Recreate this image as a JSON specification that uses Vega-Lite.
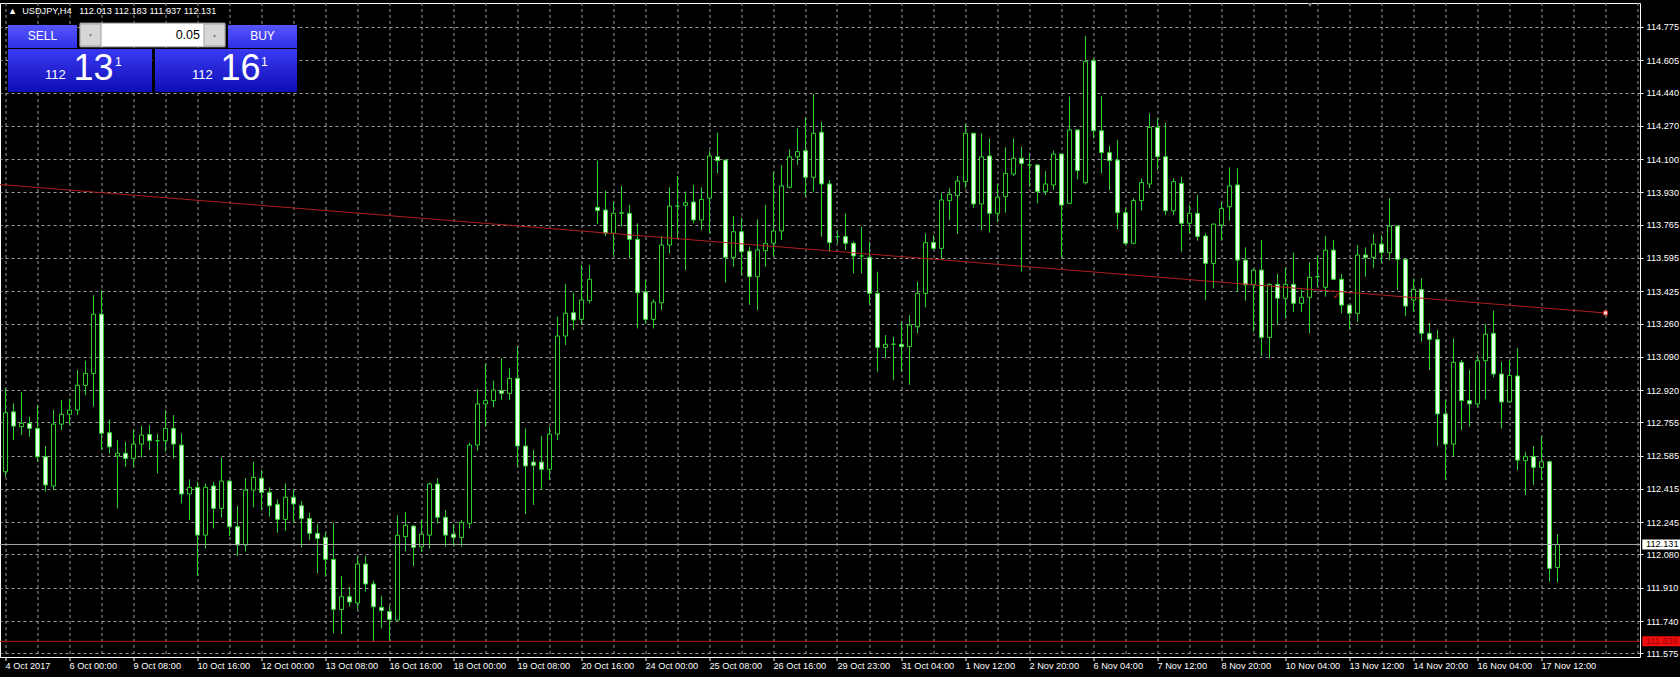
{
  "$schema": "https://vega.github.io/schema/vega-lite/v6.json",
  "autosize": {"type": "none"},
  "width": 1640,
  "height": 654,
  "padding": {"left": 0, "top": 3, "right": 40, "bottom": 20},
  "background": "#000000",
  "title": {"text": "▲\u00a0\u00a0USDJPY,H4\u00a0\u00a0\u00a0112.013 112.183 111.937 112.131", "anchor": "start", "frame": "group", "orient": "top", "offset": -19, "dx": 8, "color": "#ffffff", "font": "Liberation Sans", "fontSize": 9.2, "fontWeight": "normal", "baseline": "middle"},
  "config": {"font": "Liberation Sans", "view": {"stroke": "#ffffff", "strokeWidth": 1}, "axis": {"labelOverlap": false, "labelSeparation": 0}},
  "datasets": {
    "candles": [
{"i":0,"o":112.503,"h":112.928,"l":112.477,"c":112.804},
{"i":1,"o":112.809,"h":112.852,"l":112.664,"c":112.736},
{"i":2,"o":112.733,"h":112.910,"l":112.690,"c":112.750},
{"i":3,"o":112.750,"h":112.784,"l":112.681,"c":112.724},
{"i":4,"o":112.724,"h":112.843,"l":112.554,"c":112.579},
{"i":5,"o":112.579,"h":112.634,"l":112.401,"c":112.435},
{"i":6,"o":112.430,"h":112.818,"l":112.409,"c":112.746},
{"i":7,"o":112.746,"h":112.869,"l":112.716,"c":112.796},
{"i":8,"o":112.796,"h":112.877,"l":112.741,"c":112.818},
{"i":9,"o":112.818,"h":113.022,"l":112.792,"c":112.944},
{"i":10,"o":112.944,"h":113.070,"l":112.894,"c":113.005},
{"i":11,"o":113.005,"h":113.405,"l":112.835,"c":113.308},
{"i":12,"o":113.308,"h":113.431,"l":112.613,"c":112.699},
{"i":13,"o":112.702,"h":112.770,"l":112.596,"c":112.630},
{"i":14,"o":112.583,"h":112.665,"l":112.315,"c":112.597},
{"i":15,"o":112.597,"h":112.656,"l":112.528,"c":112.571},
{"i":16,"o":112.571,"h":112.719,"l":112.528,"c":112.644},
{"i":17,"o":112.644,"h":112.736,"l":112.576,"c":112.690},
{"i":18,"o":112.693,"h":112.741,"l":112.613,"c":112.661},
{"i":19,"o":112.661,"h":112.695,"l":112.494,"c":112.661},
{"i":20,"o":112.661,"h":112.818,"l":112.605,"c":112.724},
{"i":21,"o":112.724,"h":112.792,"l":112.571,"c":112.644},
{"i":22,"o":112.639,"h":112.699,"l":112.341,"c":112.389},
{"i":23,"o":112.389,"h":112.464,"l":112.256,"c":112.423},
{"i":24,"o":112.423,"h":112.452,"l":111.971,"c":112.179},
{"i":25,"o":112.179,"h":112.443,"l":112.111,"c":112.423},
{"i":26,"o":112.430,"h":112.452,"l":112.213,"c":112.315},
{"i":27,"o":112.315,"h":112.576,"l":112.269,"c":112.455},
{"i":28,"o":112.455,"h":112.460,"l":112.174,"c":112.222},
{"i":29,"o":112.222,"h":112.327,"l":112.072,"c":112.128},
{"i":30,"o":112.128,"h":112.469,"l":112.094,"c":112.409},
{"i":31,"o":112.409,"h":112.554,"l":112.321,"c":112.474},
{"i":32,"o":112.469,"h":112.511,"l":112.307,"c":112.397},
{"i":33,"o":112.397,"h":112.423,"l":112.273,"c":112.329},
{"i":34,"o":112.336,"h":112.361,"l":112.191,"c":112.259},
{"i":35,"o":112.259,"h":112.443,"l":112.201,"c":112.372},
{"i":36,"o":112.372,"h":112.413,"l":112.242,"c":112.338},
{"i":37,"o":112.329,"h":112.353,"l":112.116,"c":112.264},
{"i":38,"o":112.264,"h":112.293,"l":112.154,"c":112.188},
{"i":39,"o":112.188,"h":112.235,"l":111.984,"c":112.162},
{"i":40,"o":112.167,"h":112.191,"l":111.966,"c":112.055},
{"i":41,"o":112.055,"h":112.242,"l":111.677,"c":111.799},
{"i":42,"o":111.799,"h":111.970,"l":111.673,"c":111.864},
{"i":43,"o":111.864,"h":111.915,"l":111.813,"c":111.837},
{"i":44,"o":111.832,"h":112.069,"l":111.800,"c":112.031},
{"i":45,"o":112.031,"h":112.072,"l":111.890,"c":111.929},
{"i":46,"o":111.929,"h":111.946,"l":111.634,"c":111.813},
{"i":47,"o":111.810,"h":111.867,"l":111.702,"c":111.793},
{"i":48,"o":111.788,"h":111.816,"l":111.634,"c":111.748},
{"i":49,"o":111.745,"h":112.281,"l":111.745,"c":112.178},
{"i":50,"o":112.171,"h":112.298,"l":112.094,"c":112.229},
{"i":51,"o":112.225,"h":112.230,"l":112.021,"c":112.116},
{"i":52,"o":112.119,"h":112.259,"l":112.094,"c":112.184},
{"i":53,"o":112.179,"h":112.447,"l":112.111,"c":112.440},
{"i":54,"o":112.440,"h":112.469,"l":112.239,"c":112.270},
{"i":55,"o":112.270,"h":112.307,"l":112.120,"c":112.179},
{"i":56,"o":112.184,"h":112.235,"l":112.120,"c":112.167},
{"i":57,"o":112.167,"h":112.256,"l":112.120,"c":112.244},
{"i":58,"o":112.239,"h":112.651,"l":112.213,"c":112.639},
{"i":59,"o":112.639,"h":112.924,"l":112.610,"c":112.849},
{"i":60,"o":112.849,"h":113.056,"l":112.733,"c":112.866},
{"i":61,"o":112.866,"h":112.968,"l":112.832,"c":112.920},
{"i":62,"o":112.917,"h":113.082,"l":112.869,"c":112.903},
{"i":63,"o":112.903,"h":113.031,"l":112.869,"c":112.980},
{"i":64,"o":112.980,"h":113.142,"l":112.528,"c":112.634},
{"i":65,"o":112.634,"h":112.724,"l":112.286,"c":112.532},
{"i":66,"o":112.552,"h":112.614,"l":112.333,"c":112.535},
{"i":67,"o":112.552,"h":112.685,"l":112.409,"c":112.515},
{"i":68,"o":112.515,"h":112.733,"l":112.460,"c":112.695},
{"i":69,"o":112.695,"h":113.295,"l":112.665,"c":113.196},
{"i":70,"o":113.196,"h":113.462,"l":113.150,"c":113.312},
{"i":71,"o":113.315,"h":113.417,"l":113.227,"c":113.278},
{"i":72,"o":113.281,"h":113.559,"l":113.252,"c":113.380},
{"i":73,"o":113.377,"h":113.559,"l":113.363,"c":113.486},
{"i":74,"o":113.854,"h":114.092,"l":113.768,"c":113.837},
{"i":75,"o":113.840,"h":113.939,"l":113.707,"c":113.721},
{"i":76,"o":113.721,"h":113.883,"l":113.610,"c":113.823},
{"i":77,"o":113.823,"h":113.963,"l":113.755,"c":113.826},
{"i":78,"o":113.823,"h":113.866,"l":113.593,"c":113.690},
{"i":79,"o":113.690,"h":113.772,"l":113.235,"c":113.417},
{"i":80,"o":113.421,"h":113.486,"l":113.261,"c":113.281},
{"i":81,"o":113.281,"h":113.383,"l":113.235,"c":113.370},
{"i":82,"o":113.366,"h":113.707,"l":113.329,"c":113.661},
{"i":83,"o":113.661,"h":113.956,"l":113.618,"c":113.860},
{"i":84,"o":113.860,"h":114.014,"l":113.695,"c":113.860},
{"i":85,"o":113.864,"h":113.934,"l":113.533,"c":113.877},
{"i":86,"o":113.881,"h":113.968,"l":113.772,"c":113.789},
{"i":87,"o":113.789,"h":113.956,"l":113.738,"c":113.894},
{"i":88,"o":113.900,"h":114.143,"l":113.721,"c":114.116},
{"i":89,"o":114.112,"h":114.235,"l":114.027,"c":114.092},
{"i":90,"o":114.095,"h":114.095,"l":113.469,"c":113.598},
{"i":91,"o":113.598,"h":113.809,"l":113.550,"c":113.729},
{"i":92,"o":113.729,"h":113.800,"l":113.508,"c":113.627},
{"i":93,"o":113.630,"h":113.652,"l":113.355,"c":113.499},
{"i":94,"o":113.499,"h":113.792,"l":113.329,"c":113.636},
{"i":95,"o":113.632,"h":113.866,"l":113.550,"c":113.670},
{"i":96,"o":113.670,"h":114.036,"l":113.602,"c":113.733},
{"i":97,"o":113.733,"h":114.070,"l":113.687,"c":113.963},
{"i":98,"o":113.956,"h":114.150,"l":113.951,"c":114.112},
{"i":99,"o":114.112,"h":114.257,"l":114.070,"c":114.138},
{"i":100,"o":114.143,"h":114.313,"l":113.908,"c":114.007},
{"i":101,"o":114.007,"h":114.433,"l":113.934,"c":114.232},
{"i":102,"o":114.237,"h":114.291,"l":113.704,"c":113.973},
{"i":103,"o":113.973,"h":113.993,"l":113.627,"c":113.673},
{"i":104,"o":113.704,"h":113.738,"l":113.670,"c":113.704},
{"i":105,"o":113.704,"h":113.823,"l":113.636,"c":113.670},
{"i":106,"o":113.670,"h":113.680,"l":113.516,"c":113.605},
{"i":107,"o":113.605,"h":113.755,"l":113.516,"c":113.605},
{"i":108,"o":113.598,"h":113.678,"l":113.355,"c":113.414},
{"i":109,"o":113.414,"h":113.525,"l":113.014,"c":113.138},
{"i":110,"o":113.138,"h":113.201,"l":113.082,"c":113.154},
{"i":111,"o":113.154,"h":113.193,"l":112.971,"c":113.154},
{"i":112,"o":113.154,"h":113.269,"l":113.014,"c":113.142},
{"i":113,"o":113.142,"h":113.303,"l":112.946,"c":113.252},
{"i":114,"o":113.244,"h":113.474,"l":113.210,"c":113.414},
{"i":115,"o":113.414,"h":113.721,"l":113.343,"c":113.673},
{"i":116,"o":113.675,"h":113.712,"l":113.636,"c":113.644},
{"i":117,"o":113.644,"h":113.925,"l":113.588,"c":113.891},
{"i":118,"o":113.888,"h":113.951,"l":113.789,"c":113.920},
{"i":119,"o":113.913,"h":114.014,"l":113.717,"c":113.988},
{"i":120,"o":113.985,"h":114.279,"l":113.951,"c":114.232},
{"i":121,"o":114.232,"h":114.235,"l":113.849,"c":113.871},
{"i":122,"o":113.871,"h":114.232,"l":113.738,"c":114.112},
{"i":123,"o":114.116,"h":114.206,"l":113.724,"c":113.823},
{"i":124,"o":113.823,"h":113.973,"l":113.780,"c":113.905},
{"i":125,"o":113.908,"h":114.160,"l":113.826,"c":114.027},
{"i":126,"o":114.024,"h":114.206,"l":114.014,"c":114.104},
{"i":127,"o":114.104,"h":114.163,"l":113.525,"c":114.078},
{"i":128,"o":114.070,"h":114.130,"l":113.959,"c":114.070},
{"i":129,"o":114.070,"h":114.075,"l":113.874,"c":113.934},
{"i":130,"o":113.934,"h":114.039,"l":113.917,"c":113.973},
{"i":131,"o":113.968,"h":114.143,"l":113.942,"c":114.126},
{"i":132,"o":114.126,"h":114.130,"l":113.596,"c":113.865},
{"i":133,"o":113.874,"h":114.419,"l":113.870,"c":114.249},
{"i":134,"o":114.249,"h":114.250,"l":113.997,"c":114.041},
{"i":135,"o":113.980,"h":114.729,"l":113.970,"c":114.598},
{"i":136,"o":114.603,"h":114.615,"l":114.206,"c":114.245},
{"i":137,"o":114.245,"h":114.422,"l":114.027,"c":114.133},
{"i":138,"o":114.133,"h":114.167,"l":113.942,"c":114.092},
{"i":139,"o":114.095,"h":114.198,"l":113.741,"c":113.826},
{"i":140,"o":113.826,"h":113.853,"l":113.661,"c":113.670},
{"i":141,"o":113.670,"h":113.900,"l":113.665,"c":113.888},
{"i":142,"o":113.888,"h":114.002,"l":113.837,"c":113.980},
{"i":143,"o":113.973,"h":114.334,"l":113.951,"c":114.262},
{"i":144,"o":114.262,"h":114.308,"l":114.044,"c":114.112},
{"i":145,"o":114.112,"h":114.286,"l":113.814,"c":113.836},
{"i":146,"o":113.836,"h":114.002,"l":113.814,"c":113.985},
{"i":147,"o":113.976,"h":114.010,"l":113.627,"c":113.772},
{"i":148,"o":113.772,"h":113.866,"l":113.717,"c":113.823},
{"i":149,"o":113.823,"h":113.917,"l":113.683,"c":113.704},
{"i":150,"o":113.707,"h":113.720,"l":113.380,"c":113.567},
{"i":151,"o":113.567,"h":113.770,"l":113.440,"c":113.768},
{"i":152,"o":113.763,"h":113.882,"l":113.683,"c":113.848},
{"i":153,"o":113.857,"h":114.058,"l":113.785,"c":113.963},
{"i":154,"o":113.968,"h":114.053,"l":113.423,"c":113.584},
{"i":155,"o":113.584,"h":113.649,"l":113.377,"c":113.457},
{"i":156,"o":113.457,"h":113.540,"l":113.218,"c":113.533},
{"i":157,"o":113.533,"h":113.687,"l":113.094,"c":113.189},
{"i":158,"o":113.189,"h":113.465,"l":113.082,"c":113.460},
{"i":159,"o":113.460,"h":113.513,"l":113.252,"c":113.389},
{"i":160,"o":113.389,"h":113.547,"l":113.286,"c":113.460},
{"i":161,"o":113.460,"h":113.622,"l":113.320,"c":113.363},
{"i":162,"o":113.363,"h":113.434,"l":113.320,"c":113.394},
{"i":163,"o":113.394,"h":113.572,"l":113.210,"c":113.496},
{"i":164,"o":113.499,"h":113.610,"l":113.448,"c":113.499},
{"i":165,"o":113.445,"h":113.707,"l":113.397,"c":113.635},
{"i":166,"o":113.635,"h":113.687,"l":113.482,"c":113.486},
{"i":167,"o":113.486,"h":113.513,"l":113.312,"c":113.354},
{"i":168,"o":113.354,"h":113.356,"l":113.230,"c":113.312},
{"i":169,"o":113.312,"h":113.661,"l":113.269,"c":113.610},
{"i":170,"o":113.610,"h":113.649,"l":113.499,"c":113.598},
{"i":171,"o":113.598,"h":113.717,"l":113.542,"c":113.666},
{"i":172,"o":113.666,"h":113.712,"l":113.571,"c":113.622},
{"i":173,"o":113.622,"h":113.900,"l":113.584,"c":113.758},
{"i":174,"o":113.758,"h":113.760,"l":113.431,"c":113.588},
{"i":175,"o":113.588,"h":113.590,"l":113.298,"c":113.349},
{"i":176,"o":113.380,"h":113.490,"l":113.320,"c":113.434},
{"i":177,"o":113.434,"h":113.491,"l":113.167,"c":113.210},
{"i":178,"o":113.210,"h":113.264,"l":113.022,"c":113.179},
{"i":179,"o":113.179,"h":113.227,"l":112.634,"c":112.798},
{"i":180,"o":112.798,"h":112.872,"l":112.460,"c":112.644},
{"i":181,"o":112.644,"h":113.184,"l":112.580,"c":113.062},
{"i":182,"o":113.062,"h":113.074,"l":112.716,"c":112.866},
{"i":183,"o":112.866,"h":113.022,"l":112.733,"c":112.849},
{"i":184,"o":112.849,"h":113.099,"l":112.832,"c":113.070},
{"i":185,"o":113.070,"h":113.256,"l":112.872,"c":113.205},
{"i":186,"o":113.210,"h":113.326,"l":112.985,"c":113.002},
{"i":187,"o":113.002,"h":113.065,"l":112.723,"c":112.859},
{"i":188,"o":112.859,"h":113.074,"l":112.855,"c":112.995},
{"i":189,"o":112.992,"h":113.135,"l":112.511,"c":112.562},
{"i":190,"o":112.559,"h":112.605,"l":112.384,"c":112.580},
{"i":191,"o":112.580,"h":112.634,"l":112.435,"c":112.525},
{"i":192,"o":112.525,"h":112.682,"l":112.460,"c":112.554},
{"i":193,"o":112.554,"h":112.560,"l":111.941,"c":112.009},
{"i":194,"o":112.013,"h":112.183,"l":111.937,"c":112.131}
    ],
    "levels": [
      {"name": "bid", "p": 112.131, "label": "112.131"},
      {"name": "level", "p": 111.636, "label": "111.636"}
    ],
    "trend": [
      {"i": -10, "p": 114.0007},
      {"i": 200, "p": 113.314}
    ]
  },
  "layer": [
    {
      "data": {"name": "candles"},
      "mark": {"type": "rule", "color": "#2fd02f", "strokeWidth": 1},
      "encoding": {
        "x": {"field": "i", "type": "quantitative",
          "scale": {"domain": [-0.6875, 204.3125], "nice": false, "zero": false, "padding": 0},
          "axis": {"title": null, "orient": "bottom", "tickCount": 100, "values": [0,4,8,12,16,20,24,28,32,36,40,44,48,52,56,60,64,68,72,76,80,84,88,92,96,100,104,108,112,116,120,124,128,132,136,140,144,148,152,156,160,164,168,172,176,180,184,188,192,196,200,204],
            "labelExpr": "datum.value % 8 === 0 && datum.value <= 192 ? ['4 Oct 2017','6 Oct 00:00','9 Oct 08:00','10 Oct 16:00','12 Oct 00:00','13 Oct 08:00','16 Oct 16:00','18 Oct 00:00','19 Oct 08:00','20 Oct 16:00','24 Oct 00:00','25 Oct 08:00','26 Oct 16:00','29 Oct 23:00','31 Oct 04:00','1 Nov 12:00','2 Nov 20:00','6 Nov 04:00','7 Nov 12:00','8 Nov 20:00','10 Nov 04:00','13 Nov 12:00','14 Nov 20:00','16 Nov 04:00','17 Nov 12:00'][datum.value / 8] : ''",
            "labelAlign": "left", "labelBaseline": "top", "labelPadding": 1, "labelColor": "#ffffff", "labelFont": "Liberation Sans", "labelFontSize": 9.2,
            "labelOverlap": false, "labelSeparation": 0, "labelFlush": false, "labelBound": false,
            "tickColor": "#ffffff", "tickSize": 4,
            "tickOpacity": {"condition": {"test": "datum.value % 8 === 0 && datum.value <= 192", "value": 1}, "value": 0},
            "domain": false, "grid": true, "gridColor": "#9a9a9a", "gridDash": [3, 3], "gridWidth": 1, "translate": 0}},
        "y": {"field": "l", "type": "quantitative",
          "scale": {"domain": [111.5561, 114.8976], "nice": false, "zero": false, "padding": 0},
          "axis": {"title": null, "orient": "right", "tickCount": 100, "values": [111.575,111.74,111.91,112.08,112.245,112.415,112.585,112.755,112.92,113.09,113.26,113.425,113.595,113.765,113.93,114.1,114.27,114.44,114.605,114.775],
            "format": ".3f", "labelColor": "#ffffff", "labelFont": "Liberation Sans", "labelFontSize": 9.2, "labelPadding": 3,
            "labelOverlap": false, "labelSeparation": 0, "labelFlush": false, "labelBound": false,
            "tickColor": "#ffffff", "tickSize": 3, "domain": false,
            "grid": true, "gridColor": "#9a9a9a", "gridDash": [3, 3], "gridWidth": 1}},
        "y2": {"field": "h"}
      }
    },
    {
      "data": {"name": "candles"},
      "mark": {"type": "bar", "width": 4, "stroke": "#2fd02f", "strokeWidth": 1},
      "encoding": {
        "x": {"field": "i", "type": "quantitative"},
        "y": {"field": "o", "type": "quantitative"},
        "y2": {"field": "c"},
        "fill": {"condition": {"test": "datum.c < datum.o", "value": "#e6ffe6"}, "value": "#000000"}
      }
    },
    {
      "data": {"name": "levels"},
      "mark": {"type": "rule", "strokeWidth": 1},
      "encoding": {
        "y": {"field": "p", "type": "quantitative"},
        "color": {"condition": {"test": "datum.name === 'bid'", "value": "#a8a8a8"}, "value": "#b41818"}
      }
    },
    {
      "data": {"name": "trend"},
      "mark": {"type": "line", "color": "#b01c1c", "strokeWidth": 1, "clip": true},
      "encoding": {
        "x": {"field": "i", "type": "quantitative"},
        "y": {"field": "p", "type": "quantitative"}
      }
    },
    {
      "data": {"name": "trend"},
      "transform": [{"filter": "datum.i === 200"}],
      "mark": {"type": "point", "shape": "square", "filled": true, "fill": "#ffe0e0", "stroke": "#d02020", "strokeWidth": 1, "size": 16, "opacity": 1},
      "encoding": {
        "x": {"field": "i", "type": "quantitative"},
        "y": {"field": "p", "type": "quantitative"}
      }
    },
    {
      "data": {"values": [{}]},
      "mark": {"type": "text", "text": "✓", "fontSize": 10, "color": "#d02020", "align": "center", "baseline": "middle", "font": "DejaVu Sans"},
      "encoding": {"x": {"datum": 166.4, "type": "quantitative"}, "y": {"datum": 113.402, "type": "quantitative"}}
    },
    {
      "data": {"name": "levels"},
      "mark": {"type": "bar", "height": 10},
      "encoding": {
        "x": {"datum": 204.6, "type": "quantitative"},
        "x2": {"datum": 209.31},
        "y": {"field": "p", "type": "quantitative"},
        "fill": {"condition": {"test": "datum.name === 'bid'", "value": "#ffffff"}, "value": "#f01010"}
      }
    },
    {
      "data": {"name": "levels"},
      "mark": {"type": "text", "align": "left", "baseline": "middle", "font": "Liberation Sans", "fontSize": 9.2},
      "encoding": {
        "x": {"datum": 205.06, "type": "quantitative"},
        "y": {"field": "p", "type": "quantitative"},
        "text": {"field": "label"},
        "color": {"condition": {"test": "datum.name === 'bid'", "value": "#000000"}, "value": "#a00000"}
      }
    },
    {
      "data": {"values": [{}]},
      "mark": {"type": "text", "text": "▼", "fontSize": 7, "color": "#8a8a8a", "baseline": "middle", "align": "center"},
      "encoding": {"x": {"datum": 163.06, "type": "quantitative"}, "y": {"datum": 114.8874, "type": "quantitative"}}
    },
    {
      "data": {"values": [{}]},
      "mark": {"type": "rect", "fill": {"gradient": "linear", "x1": 0, "y1": 0, "x2": 0, "y2": 1, "stops": [{"offset": 0, "color": "#5656ff"}, {"offset": 1, "color": "#3030e6"}]}},
      "encoding": {"x": {"datum": 0.3125, "type": "quantitative"}, "x2": {"datum": 8.9375}, "y": {"datum": 114.7852, "type": "quantitative"}, "y2": {"datum": 114.6677}}
    },
    {
      "data": {"values": [{}]},
      "mark": {"type": "rect", "fill": {"gradient": "linear", "x1": 0, "y1": 0, "x2": 0, "y2": 1, "stops": [{"offset": 0, "color": "#5656ff"}, {"offset": 1, "color": "#3030e6"}]}},
      "encoding": {"x": {"datum": 27.8125, "type": "quantitative"}, "x2": {"datum": 36.4375}, "y": {"datum": 114.7852, "type": "quantitative"}, "y2": {"datum": 114.6677}}
    },
    {
      "data": {"values": [{}]},
      "mark": {"type": "rect", "fill": {"gradient": "linear", "x1": 0, "y1": 0, "x2": 0, "y2": 1, "stops": [{"offset": 0, "color": "#3a3af4"}, {"offset": 1, "color": "#0e0eb4"}]}},
      "encoding": {"x": {"datum": 0.3125, "type": "quantitative"}, "x2": {"datum": 18.3125}, "y": {"datum": 114.6626, "type": "quantitative"}, "y2": {"datum": 114.4429}}
    },
    {
      "data": {"values": [{}]},
      "mark": {"type": "rect", "fill": {"gradient": "linear", "x1": 0, "y1": 0, "x2": 0, "y2": 1, "stops": [{"offset": 0, "color": "#3a3af4"}, {"offset": 1, "color": "#0e0eb4"}]}},
      "encoding": {"x": {"datum": 18.6875, "type": "quantitative"}, "x2": {"datum": 36.4375}, "y": {"datum": 114.6626, "type": "quantitative"}, "y2": {"datum": 114.4429}}
    },
    {
      "data": {"values": [{}]},
      "mark": {"type": "rect", "fill": "#ffffff", "stroke": "#7a7a7a", "strokeWidth": 1},
      "encoding": {"x": {"datum": 9.3125, "type": "quantitative"}, "x2": {"datum": 27.4375}, "y": {"datum": 114.7954, "type": "quantitative"}, "y2": {"datum": 114.6728}}
    },
    {
      "data": {"values": [{}]},
      "mark": {"type": "rect", "fill": "#d6d6d6", "stroke": "#a0a0a0", "strokeWidth": 1},
      "encoding": {"x": {"datum": 9.3125, "type": "quantitative"}, "x2": {"datum": 11.9375}, "y": {"datum": 114.7903, "type": "quantitative"}, "y2": {"datum": 114.6779}}
    },
    {
      "data": {"values": [{}]},
      "mark": {"type": "rect", "fill": "#d6d6d6", "stroke": "#a0a0a0", "strokeWidth": 1},
      "encoding": {"x": {"datum": 24.8125, "type": "quantitative"}, "x2": {"datum": 27.4375}, "y": {"datum": 114.7903, "type": "quantitative"}, "y2": {"datum": 114.6779}}
    },
    {
      "data": {"values": [{}]},
      "mark": {"type": "text", "text": "▼", "fontSize": 5, "color": "#808080", "align": "center", "baseline": "middle"},
      "encoding": {"x": {"datum": 10.625, "type": "quantitative"}, "y": {"datum": 114.7341, "type": "quantitative"}}
    },
    {
      "data": {"values": [{}]},
      "mark": {"type": "text", "text": "▲", "fontSize": 5, "color": "#808080", "align": "center", "baseline": "middle"},
      "encoding": {"x": {"datum": 26.125, "type": "quantitative"}, "y": {"datum": 114.7341, "type": "quantitative"}}
    },
    {
      "data": {"values": [{}]},
      "mark": {"type": "text", "text": "SELL", "fontSize": 12, "color": "#ffffff", "align": "center", "baseline": "middle", "font": "Liberation Sans"},
      "encoding": {"x": {"datum": 4.625, "type": "quantitative"}, "y": {"datum": 114.729, "type": "quantitative"}}
    },
    {
      "data": {"values": [{}]},
      "mark": {"type": "text", "text": "BUY", "fontSize": 12, "color": "#ffffff", "align": "center", "baseline": "middle", "font": "Liberation Sans"},
      "encoding": {"x": {"datum": 32.125, "type": "quantitative"}, "y": {"datum": 114.729, "type": "quantitative"}}
    },
    {
      "data": {"values": [{}]},
      "mark": {"type": "text", "text": "0.05", "fontSize": 12.5, "color": "#000000", "align": "right", "baseline": "middle", "font": "Liberation Sans"},
      "encoding": {"x": {"datum": 24.3125, "type": "quantitative"}, "y": {"datum": 114.7341, "type": "quantitative"}}
    },
    {
      "data": {"values": [{}]},
      "mark": {"type": "text", "text": "112", "fontSize": 13, "color": "#ffffff", "align": "left", "baseline": "alphabetic", "font": "Liberation Sans"},
      "encoding": {"x": {"datum": 4.9375, "type": "quantitative"}, "y": {"datum": 114.5093, "type": "quantitative"}}
    },
    {
      "data": {"values": [{}]},
      "mark": {"type": "text", "text": "13", "fontSize": 36, "color": "#ffffff", "align": "left", "baseline": "alphabetic", "font": "Liberation Sans"},
      "encoding": {"x": {"datum": 8.5, "type": "quantitative"}, "y": {"datum": 114.5042, "type": "quantitative"}}
    },
    {
      "data": {"values": [{}]},
      "mark": {"type": "text", "text": "1", "fontSize": 12, "color": "#ffffff", "align": "left", "baseline": "alphabetic", "font": "Liberation Sans"},
      "encoding": {"x": {"datum": 13.6875, "type": "quantitative"}, "y": {"datum": 114.5772, "type": "quantitative"}}
    },
    {
      "data": {"values": [{}]},
      "mark": {"type": "text", "text": "112", "fontSize": 13, "color": "#ffffff", "align": "left", "baseline": "alphabetic", "font": "Liberation Sans"},
      "encoding": {"x": {"datum": 23.3125, "type": "quantitative"}, "y": {"datum": 114.5093, "type": "quantitative"}}
    },
    {
      "data": {"values": [{}]},
      "mark": {"type": "text", "text": "16", "fontSize": 36, "color": "#ffffff", "align": "left", "baseline": "alphabetic", "font": "Liberation Sans"},
      "encoding": {"x": {"datum": 26.875, "type": "quantitative"}, "y": {"datum": 114.5042, "type": "quantitative"}}
    },
    {
      "data": {"values": [{}]},
      "mark": {"type": "text", "text": "1", "fontSize": 12, "color": "#ffffff", "align": "left", "baseline": "alphabetic", "font": "Liberation Sans"},
      "encoding": {"x": {"datum": 31.9375, "type": "quantitative"}, "y": {"datum": 114.5772, "type": "quantitative"}}
    }
  ]
}
